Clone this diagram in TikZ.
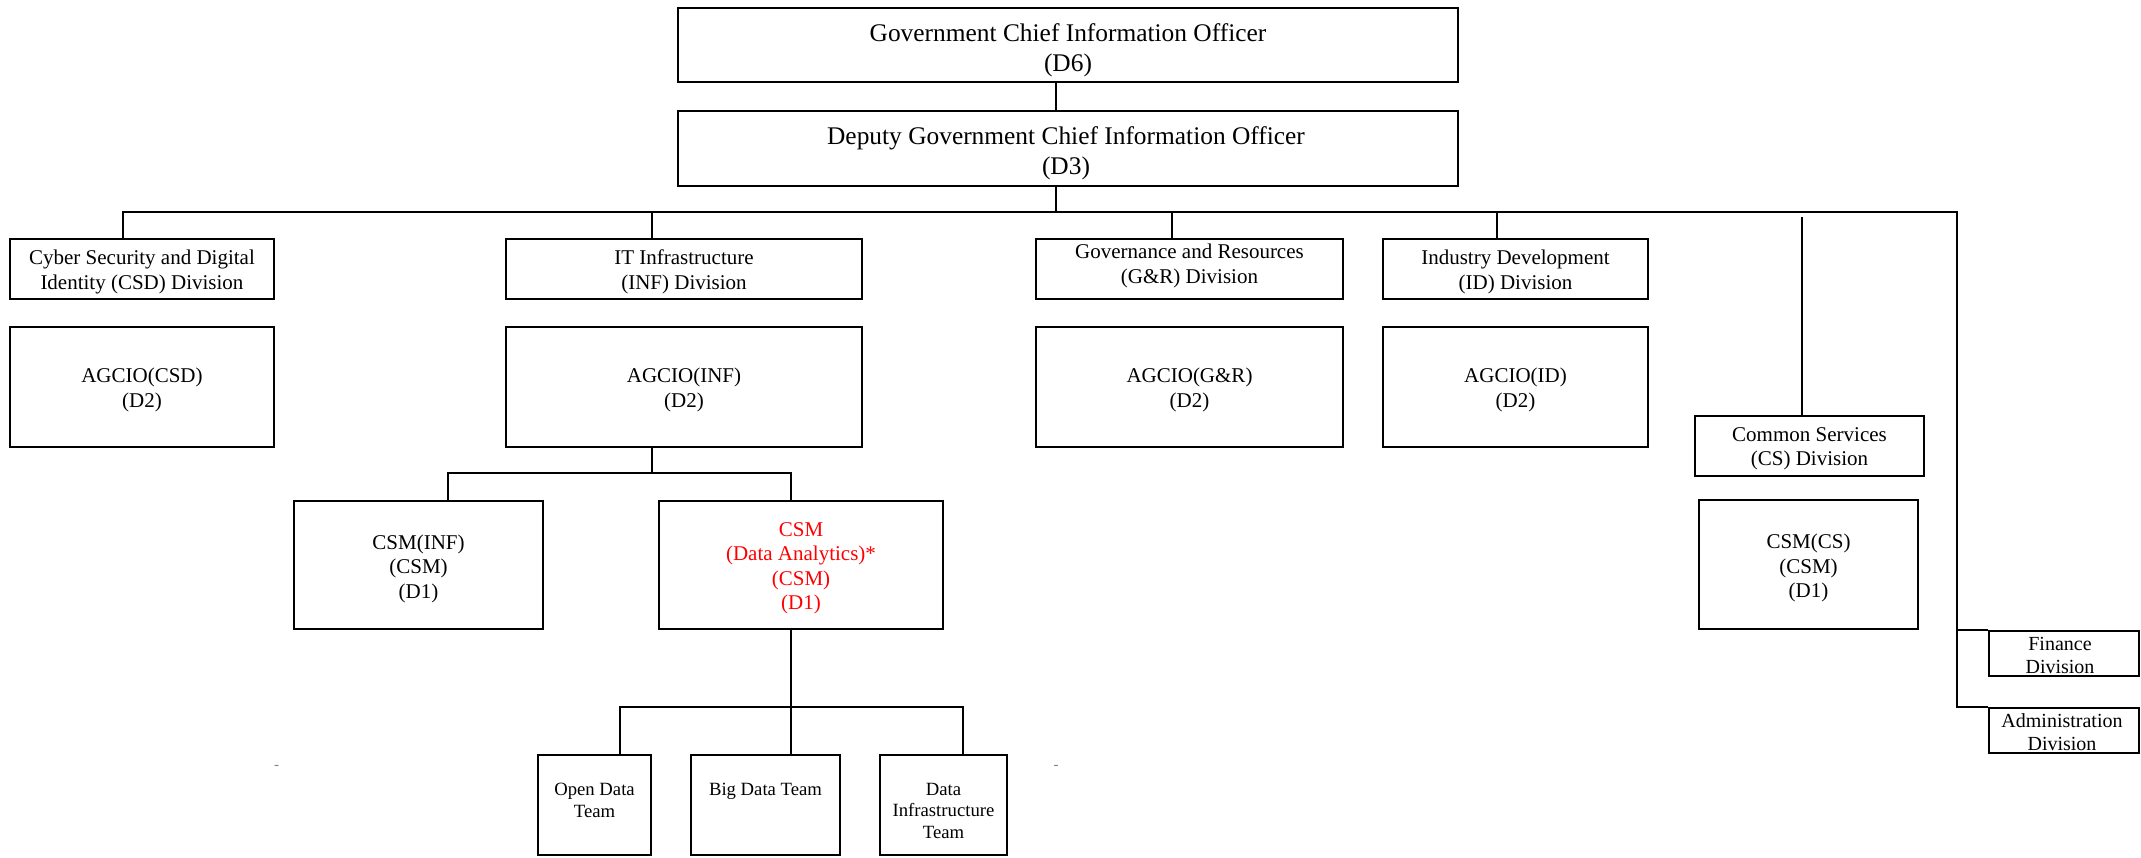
\documentclass[tikz,border=0pt]{standalone}
\usepackage{fontspec}
\setmainfont{Liberation Serif}
\definecolor{dared}{RGB}{255,0,0}
\definecolor{hyphgray}{RGB}{128,128,128}
\begin{document}
\begin{tikzpicture}[x=1pt,y=-1pt,
  box/.style 2 args={draw, line width=2pt, inner sep=0pt, minimum width=#1, minimum height=#2},
  bigtxt/.style={font=\fontsize{25.4}{30}\selectfont},
  midtxt/.style={font=\fontsize{21}{24.5}\selectfont},
  smalltxt/.style={font=\fontsize{18.7}{21.5}\selectfont},
  fintxt/.style={font=\fontsize{20}{23}\selectfont},
  freetxt/.style={align=center, inner sep=0pt},
  link/.style={line width=1.6pt},
  hyph/.style={font=\fontsize{15}{15}\selectfont, text=hyphgray, inner sep=0pt}]
\useasboundingbox (0,0) rectangle (2141,857);

% top
\node[box={780}{74}] (gcio) at (1068,45) {};
\node[freetxt, bigtxt] (gciot) at (1068,50) {Government Chief Information Officer\\(D6)};
\node[box={780}{75}] (dgcio) at (1068,148) {};
\node[freetxt, bigtxt] (dgciot) at (1066,153) {Deputy Government Chief Information Officer\\(D3)};

% divisions
\node[box={264}{60}] (csd) at (142,269) {};
\node[freetxt, midtxt] (csdt) at (142,272) {Cyber Security and Digital\\Identity (CSD) Division};
\node[box={356}{60}] (inf) at (684,269) {};
\node[freetxt, midtxt] (inft) at (684,272) {IT Infrastructure\\(INF) Division};
\node[box={307}{60}] (gr) at (1189.5,269) {};
\node[freetxt, midtxt] (grt) at (1189.5,266) {Governance and Resources\\(G\&R) Division};
\node[box={265}{60}] (id) at (1515.5,269) {};
\node[freetxt, midtxt] (idt) at (1515.5,272) {Industry Development\\(ID) Division};

% AGCIO
\node[box={264}{120}] (acsd) at (142,387) {};
\node[freetxt, midtxt] (acsdt) at (142,390) {AGCIO(CSD)\\(D2)};
\node[box={356}{120}] (ainf) at (684,387) {};
\node[freetxt, midtxt] (ainft) at (684,390) {AGCIO(INF)\\(D2)};
\node[box={307}{120}] (agr) at (1189.5,387) {};
\node[freetxt, midtxt] (agrt) at (1189.5,390) {AGCIO(G\&R)\\(D2)};
\node[box={265}{120}] (aid) at (1515.5,387) {};
\node[freetxt, midtxt] (aidt) at (1515.5,390) {AGCIO(ID)\\(D2)};

% common services
\node[box={229}{60}] (cs) at (1809.5,446) {};
\node[freetxt, midtxt] (cst) at (1809.5,449) {Common Services\\(CS) Division};
\node[box={219}{129}] (csmcs) at (1808.5,564.5) {};
\node[freetxt, midtxt] (csmcst) at (1808.5,568) {CSM(CS)\\(CSM)\\(D1)};

% CSM under INF
\node[box={249}{128}] (csminf) at (418.5,565) {};
\node[freetxt, midtxt] (csminft) at (418.5,568.5) {CSM(INF)\\(CSM)\\(D1)};
\node[box={284}{128}] (csmda) at (801,565) {};
\node[freetxt, midtxt, text=dared] (csmdat) at (801,568.5) {CSM\\(Data Analytics)*\\(CSM)\\(D1)};

% teams
\node[box={113}{100}] (open) at (594.5,805) {};
\node[box={149}{100}] (big) at (765.5,805) {};
\node[box={127}{100}] (dinf) at (943.5,805) {};
\node[freetxt, smalltxt, anchor=north] (opentext) at (594.5,783) {Open Data\\Team};
\node[freetxt, smalltxt, anchor=north] (bigtext) at (765.5,783) {Big Data Team};
\node[freetxt, smalltxt, anchor=north] (dinftext) at (943.5,783) {Data\\Infrastructure\\Team};

% finance / admin
\node[box={150}{45}] (fin) at (2064,653.5) {};
\node[freetxt, fintxt] (fint) at (2060,655) {Finance\\Division};
\node[box={150}{45}] (adm) at (2064,730.5) {};
\node[freetxt, fintxt] (admt) at (2062,732) {Administration\\Division};

% stray marks
\node[hyph] (h1) at (276.5,767) {-};
\node[hyph] (h2) at (1056,767) {-};

% connectors
\coordinate (vx) at (1056,0);
\coordinate (busL) at (123,212);
\coordinate (busR) at (1957,212);
\coordinate (xinf) at (652,0);
\coordinate (xgr) at (1172,0);
\coordinate (xid) at (1497,0);
\coordinate (xcs) at (1802,217);

\draw[link] (gcio.south -| vx) -- (dgcio.north -| vx);
\draw[link] (dgcio.south -| vx) -- (vx |- busL);
\draw[link] (csd.north -| busL) -- (busL) -- (busR) -- (busR |- adm.north) -- (adm.north west);
\draw[link] (busR |- fin.north) -- (fin.north west);
\draw[link] (xinf |- busL) -- (inf.north -| xinf);
\draw[link] (xgr |- busL) -- (gr.north -| xgr);
\draw[link] (xid |- busL) -- (id.north -| xid);
\draw[link] (xcs) -- (cs.north -| xcs);

\coordinate (j1) at (652,473);
\coordinate (b1) at (448,473);
\coordinate (b2) at (791,473);
\draw[link] (ainf.south -| j1) -- (j1);
\draw[link] (csminf.north -| b1) -- (b1) -- (b2) -- (csmda.north -| b2);

\coordinate (t0) at (791,707);
\coordinate (t1) at (620,707);
\coordinate (t3) at (963,707);
\draw[link] (csmda.south -| t0) -- (t0) -- (big.north -| t0);
\draw[link] (open.north -| t1) -- (t1) -- (t3) -- (dinf.north -| t3);
\end{tikzpicture}
\end{document}
